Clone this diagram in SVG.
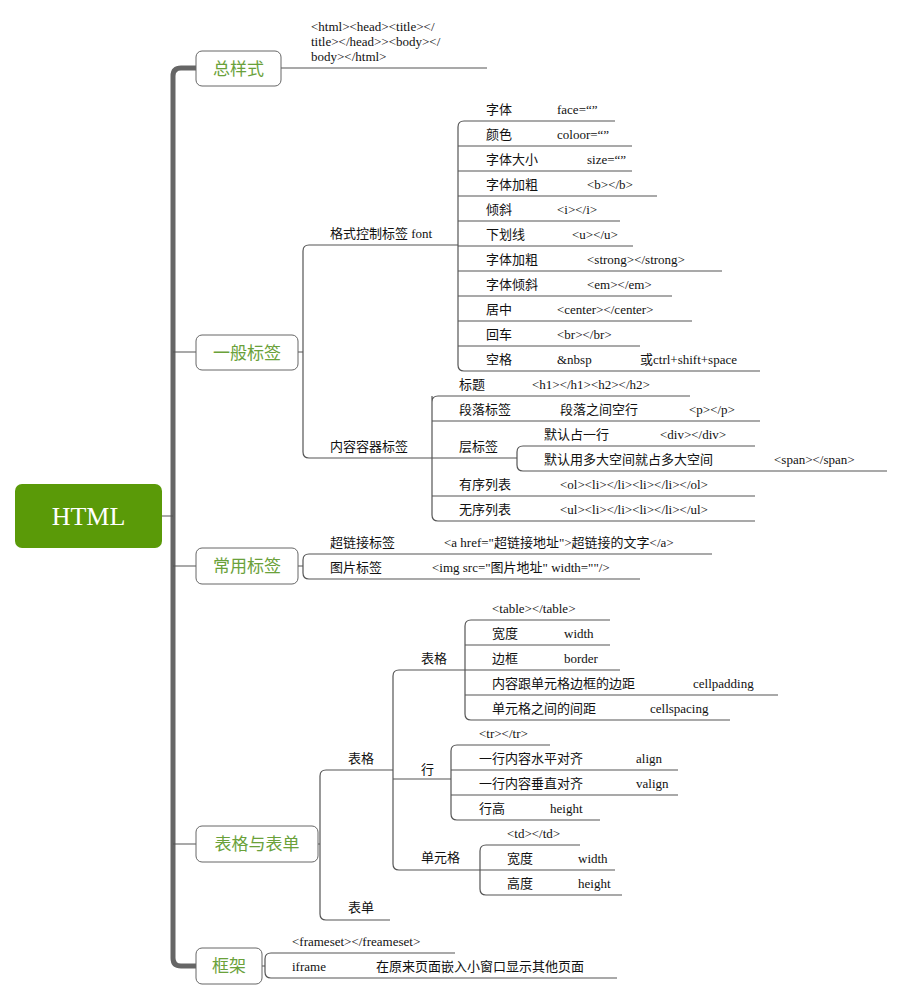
<svg xmlns="http://www.w3.org/2000/svg" width="903" height="1001" viewBox="0 0 903 1001">
<style>
.l{stroke:#555;stroke-width:1.2;fill:none}
.t{font-family:"Liberation Serif","Noto Sans CJK SC",serif;font-size:13px;fill:#111}
.b{fill:#fff;stroke:#666;stroke-width:1}
.bt{font-family:"Noto Sans CJK SC",sans-serif;font-size:17px;fill:#6aa13a;text-anchor:middle}
</style>
<rect width="903" height="1001" fill="#fff"/>
<g id="connectors">
<path d="M173,516 L173,76 Q173,68 181,68 L196,68 M173,516 L173,958 Q173,966 181,966 L196,966" stroke="#666" stroke-width="5" fill="none"/>
<path class="l" d="M162,516 H173 M173,352 H196 M173,566 H196 M173,844 H196"/>
<path class="l" d="M281,68 H487"/>
<path class="l" d="M298,352 H303 M303,251 Q303,245 309,245 H458 M303,251 V452 Q303,458 309,458 H432"/>
<path class="l" d="M458,127 Q458,121 464,121 H615 M458,127 V365 Q458,371 464,371 H760 M458,146 H632 M458,171 H632 M458,196 H657 M458,221 H620 M458,246 H633 M458,271 H722 M458,296 H672 M458,321 H692 M458,346 H640"/>
<path class="l" d="M432,396 V402 Q432,396 438,396 H690 M432,402 V515 Q432,521 438,521 H755 M432,421 H760 M432,458 H517 M432,496 H755"/>
<path class="l" d="M517,452 Q517,446 523,446 H755 M517,452 V465 Q517,471 523,471 H887"/>
<path class="l" d="M298,566 H303 M303,560 Q303,554 309,554 H712 M303,560 V573 Q303,579 309,579 H640"/>
<path class="l" d="M318,844 H320 M320,776 Q320,770 326,770 H393 M320,776 V914 Q320,920 326,920 H390"/>
<path class="l" d="M393,676 Q393,670 399,670 H465 M393,676 V864 Q393,870 399,870 H480 M393,779 H451"/>
<path class="l" d="M465,626 Q465,620 471,620 H610 M465,626 V714 Q465,720 471,720 H730 M465,645 H610 M465,670 H620 M465,695 H778"/>
<path class="l" d="M451,751 Q451,745 457,745 H550 M451,751 V814 Q451,820 457,820 H600 M451,770 H678 M451,795 H678"/>
<path class="l" d="M480,851 Q480,845 486,845 H580 M480,851 V889 Q480,895 486,895 H622 M480,870 H615"/>
<path class="l" d="M262,966 H265 M265,959 Q265,953 271,953 H455 M265,959 V972 Q265,978 271,978 H617"/>
</g>
<g id="root"><rect x="15" y="484" width="147" height="64" rx="7" fill="#5a9a08"/><text x="88.5" y="525" font-family="Liberation Serif,serif" font-size="26" fill="#fff" text-anchor="middle">HTML</text></g>
<g id="n1"><rect class="b" x="196" y="51" width="85" height="35" rx="6"/><text class="bt" x="238.5" y="75">总样式</text>
<text class="t" x="311" y="31">&lt;html&gt;&lt;head&gt;&lt;title&gt;&lt;/</text><text class="t" x="311" y="46">title&gt;&lt;/head&gt;&gt;&lt;body&gt;&lt;/</text><text class="t" x="311" y="61">body&gt;&lt;/html&gt;</text></g>
<g id="n2"><rect class="b" x="196" y="335" width="102" height="35" rx="6"/><text class="bt" x="247" y="359">一般标签</text>
<text class="t" x="330" y="238">格式控制标签 font</text><text class="t" x="330" y="451">内容容器标签</text>
<text class="t" x="486" y="114">字体</text><text class="t" x="557" y="114">face=“”</text>
<text class="t" x="486" y="139">颜色</text><text class="t" x="557" y="139">coloor=“”</text>
<text class="t" x="486" y="164">字体大小</text><text class="t" x="587" y="164">size=“”</text>
<text class="t" x="486" y="189">字体加粗</text><text class="t" x="587" y="189">&lt;b&gt;&lt;/b&gt;</text>
<text class="t" x="486" y="214">倾斜</text><text class="t" x="557" y="214">&lt;i&gt;&lt;/i&gt;</text>
<text class="t" x="486" y="239">下划线</text><text class="t" x="572" y="239">&lt;u&gt;&lt;/u&gt;</text>
<text class="t" x="486" y="264">字体加粗</text><text class="t" x="587" y="264">&lt;strong&gt;&lt;/strong&gt;</text>
<text class="t" x="486" y="289">字体倾斜</text><text class="t" x="587" y="289">&lt;em&gt;&lt;/em&gt;</text>
<text class="t" x="486" y="314">居中</text><text class="t" x="557" y="314">&lt;center&gt;&lt;/center&gt;</text>
<text class="t" x="486" y="339">回车</text><text class="t" x="557" y="339">&lt;br&gt;&lt;/br&gt;</text>
<text class="t" x="486" y="364">空格</text><text class="t" x="557" y="364">&amp;nbsp</text><text class="t" x="640" y="364">或ctrl+shift+space</text>
<text class="t" x="459" y="389">标题</text><text class="t" x="532" y="389">&lt;h1&gt;&lt;/h1&gt;&lt;h2&gt;&lt;/h2&gt;</text>
<text class="t" x="459" y="414">段落标签</text><text class="t" x="560" y="414">段落之间空行</text><text class="t" x="689" y="414">&lt;p&gt;&lt;/p&gt;</text>
<text class="t" x="459" y="451">层标签</text>
<text class="t" x="544" y="439">默认占一行</text><text class="t" x="660" y="439">&lt;div&gt;&lt;/div&gt;</text>
<text class="t" x="544" y="464">默认用多大空间就占多大空间</text><text class="t" x="774" y="464">&lt;span&gt;&lt;/span&gt;</text>
<text class="t" x="459" y="489">有序列表</text><text class="t" x="560" y="489">&lt;ol&gt;&lt;li&gt;&lt;/li&gt;&lt;li&gt;&lt;/li&gt;&lt;/ol&gt;</text>
<text class="t" x="459" y="514">无序列表</text><text class="t" x="560" y="514">&lt;ul&gt;&lt;li&gt;&lt;/li&gt;&lt;li&gt;&lt;/li&gt;&lt;/ul&gt;</text></g>
<g id="n3"><rect class="b" x="196" y="548" width="102" height="36" rx="6"/><text class="bt" x="247" y="572">常用标签</text>
<text class="t" x="330" y="547">超链接标签</text><text class="t" x="444" y="547">&lt;a href="超链接地址"&gt;超链接的文字&lt;/a&gt;</text>
<text class="t" x="330" y="572">图片标签</text><text class="t" x="432" y="572">&lt;img src="图片地址" width=""/&gt;</text></g>
<g id="n4"><rect class="b" x="196" y="826" width="122" height="36" rx="6"/><text class="bt" x="257" y="850">表格与表单</text>
<text class="t" x="348" y="763">表格</text><text class="t" x="348" y="912">表单</text>
<text class="t" x="421" y="663">表格</text><text class="t" x="421" y="774">行</text><text class="t" x="421" y="862">单元格</text>
<text class="t" x="492" y="613">&lt;table&gt;&lt;/table&gt;</text>
<text class="t" x="492" y="638">宽度</text><text class="t" x="564" y="638">width</text>
<text class="t" x="492" y="663">边框</text><text class="t" x="564" y="663">border</text>
<text class="t" x="492" y="688">内容跟单元格边框的边距</text><text class="t" x="693" y="688">cellpadding</text>
<text class="t" x="492" y="713">单元格之间的间距</text><text class="t" x="650" y="713">cellspacing</text>
<text class="t" x="479" y="738">&lt;tr&gt;&lt;/tr&gt;</text>
<text class="t" x="479" y="763">一行内容水平对齐</text><text class="t" x="636" y="763">align</text>
<text class="t" x="479" y="788">一行内容垂直对齐</text><text class="t" x="636" y="788">valign</text>
<text class="t" x="479" y="813">行高</text><text class="t" x="550" y="813">height</text>
<text class="t" x="507" y="838">&lt;td&gt;&lt;/td&gt;</text>
<text class="t" x="507" y="863">宽度</text><text class="t" x="578" y="863">width</text>
<text class="t" x="507" y="888">高度</text><text class="t" x="578" y="888">height</text></g>
<g id="n5"><rect class="b" x="196" y="948" width="66" height="36" rx="6"/><text class="bt" x="229" y="972">框架</text>
<text class="t" x="292" y="946">&lt;frameset&gt;&lt;/freameset&gt;</text>
<text class="t" x="292" y="971">iframe</text><text class="t" x="376" y="971">在原来页面嵌入小窗口显示其他页面</text></g>
</svg>
